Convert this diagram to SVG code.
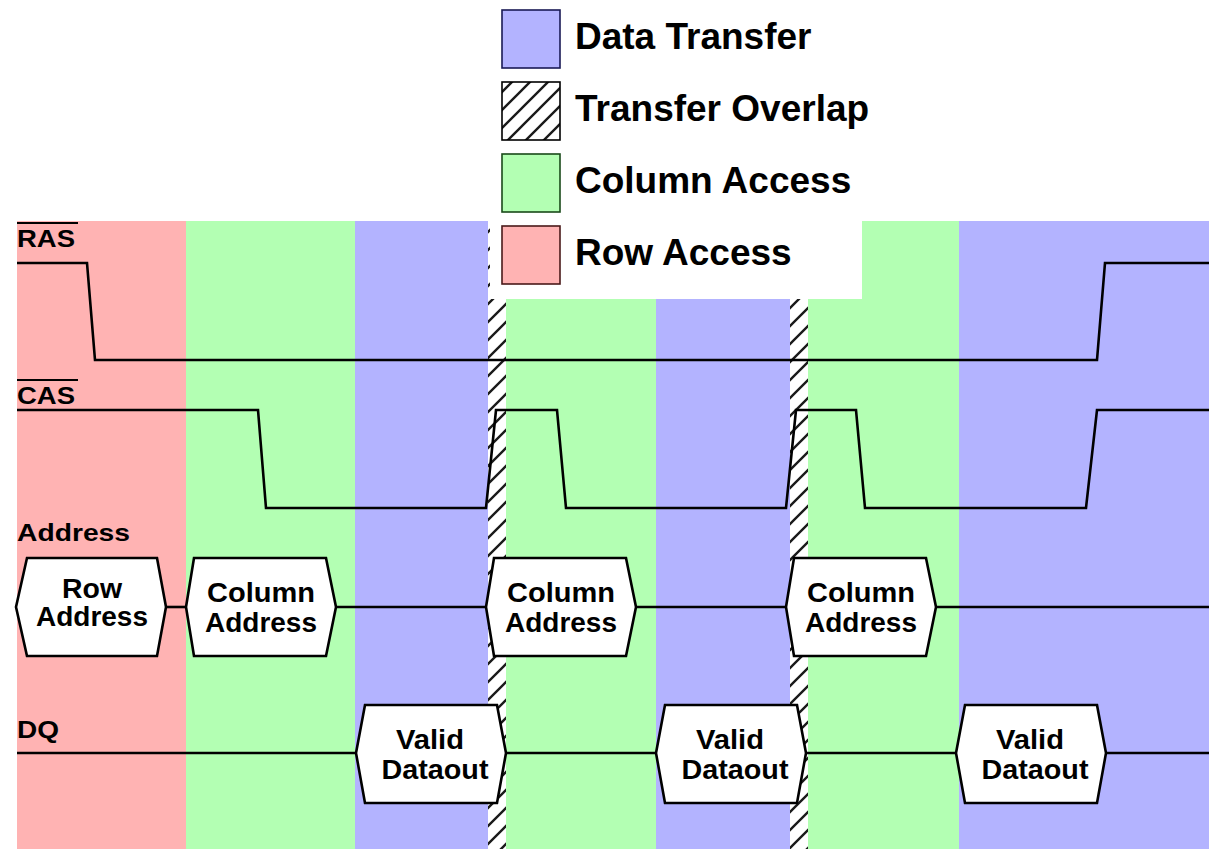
<svg xmlns="http://www.w3.org/2000/svg" width="1209" height="849" viewBox="0 0 1209 849">
  <defs>
    <pattern id="hatch" patternUnits="userSpaceOnUse" width="18" height="18">
      <rect width="18" height="18" fill="#ffffff"/>
      <path d="M-4.5,4.5 L4.5,-4.5 M0,18 L18,0 M13.5,22.5 L22.5,13.5" stroke="#1a1a1a" stroke-width="2.4"/>
    </pattern>
    <style>
      .row { fill: #ffb3b3; }
      .col { fill: #b3ffb3; }
      .xfer { fill: #b3b3ff; }
      .ovl { fill: url(#hatch); }
      .sig { fill: none; stroke: #000; stroke-width: 2.6; stroke-linejoin: miter; }
      .hex { fill: #ffffff; stroke: #000; stroke-width: 2.6; stroke-linejoin: miter; }
      .lbl { font-family: "Liberation Sans", Arial, sans-serif; font-weight: bold; font-size: 24.5px; fill: #000; }
      .box { font-family: "Liberation Sans", Arial, sans-serif; font-weight: bold; font-size: 27px; fill: #000; text-anchor: middle; }
      .leg { font-family: "Liberation Sans", Arial, sans-serif; font-weight: bold; font-size: 37px; fill: #000; }
    </style>
  </defs>

  <rect width="1209" height="849" fill="#ffffff"/>

  <!-- phase bands -->
  <g id="bands">
    <rect class="row" x="17" y="221" width="169" height="628"/>
    <rect class="col" x="186" y="221" width="169" height="628"/>
    <rect class="xfer" x="355" y="221" width="133" height="628"/>
    <rect class="ovl" x="488" y="221" width="18" height="628"/>
    <rect class="col" x="506" y="221" width="150" height="628"/>
    <rect class="xfer" x="656" y="221" width="134" height="628"/>
    <rect class="ovl" x="790" y="221" width="18" height="628"/>
    <rect class="col" x="808" y="221" width="151" height="628"/>
    <rect class="xfer" x="959" y="221" width="250" height="628"/>
  </g>

  <!-- legend -->
  <g id="legend">
    <rect x="490" y="0" width="372" height="299" fill="#ffffff"/>
    <rect class="xfer" x="502" y="10" width="58" height="58" stroke="#1a1a55" stroke-width="1.6"/>
    <rect class="ovl" x="502" y="82" width="58" height="58" stroke="#000" stroke-width="1.6"/>
    <rect class="col" x="502" y="154" width="58" height="58" stroke="#1a4a1a" stroke-width="1.6"/>
    <rect class="row" x="502" y="226" width="58" height="58" stroke="#4a1a1a" stroke-width="1.6"/>
    <text class="leg" x="575" y="49">Data Transfer</text>
    <text class="leg" x="575" y="121">Transfer Overlap</text>
    <text class="leg" x="575" y="193">Column Access</text>
    <text class="leg" x="575" y="265">Row Access</text>
  </g>

  <!-- signal names -->
  <g id="labels">
    <text class="lbl" x="17" y="247" textLength="58" lengthAdjust="spacingAndGlyphs">RAS</text>
    <line x1="17" y1="223" x2="78" y2="223" stroke="#000" stroke-width="2"/>
    <text class="lbl" x="17" y="404" textLength="58" lengthAdjust="spacingAndGlyphs">CAS</text>
    <line x1="17" y1="380" x2="78" y2="380" stroke="#000" stroke-width="2"/>
    <text class="lbl" x="17" y="541" textLength="113" lengthAdjust="spacingAndGlyphs">Address</text>
    <text class="lbl" x="17" y="738" textLength="42" lengthAdjust="spacingAndGlyphs">DQ</text>
  </g>

  <!-- waveforms -->
  <g id="connectors">
    <polyline class="sig" points="17,263 87,263 95,360 1097,360 1105,263 1209,263"/>
    <polyline class="sig" points="17,410 258,410 266,508 486,508 496,410 557,410 566,508 786,508 796,410 856,410 865,508 1086,508 1097,410 1209,410"/>
    <line class="sig" x1="166" y1="607" x2="186" y2="607"/>
    <line class="sig" x1="336" y1="607" x2="486" y2="607"/>
    <line class="sig" x1="636" y1="607" x2="786" y2="607"/>
    <line class="sig" x1="936" y1="607" x2="1209" y2="607"/>
    <line class="sig" x1="17" y1="753" x2="356" y2="753"/>
    <line class="sig" x1="506" y1="753" x2="656" y2="753"/>
    <line class="sig" x1="806" y1="753" x2="956" y2="753"/>
    <line class="sig" x1="1106" y1="753" x2="1209" y2="753"/>
  </g>

  <!-- address phases -->
  <g id="row-address">
    <polygon class="hex" points="16,607 27,558 157,558 166,607 157,656 27,656"/>
    <text class="box" x="92" y="598" textLength="60" lengthAdjust="spacingAndGlyphs">Row</text>
    <text class="box" x="92" y="626" textLength="112" lengthAdjust="spacingAndGlyphs">Address</text>
  </g>
  <g id="column-address-1">
    <polygon class="hex" points="186,607 194,558 326,558 336,607 326,656 194,656"/>
    <text class="box" x="261" y="602" textLength="108" lengthAdjust="spacingAndGlyphs">Column</text>
    <text class="box" x="261" y="632" textLength="112" lengthAdjust="spacingAndGlyphs">Address</text>
  </g>
  <g id="column-address-2">
    <polygon class="hex" points="486,607 494,558 626,558 636,607 626,656 494,656"/>
    <text class="box" x="561" y="602" textLength="108" lengthAdjust="spacingAndGlyphs">Column</text>
    <text class="box" x="561" y="632" textLength="112" lengthAdjust="spacingAndGlyphs">Address</text>
  </g>
  <g id="column-address-3">
    <polygon class="hex" points="786,607 794,558 926,558 936,607 926,656 794,656"/>
    <text class="box" x="861" y="602" textLength="108" lengthAdjust="spacingAndGlyphs">Column</text>
    <text class="box" x="861" y="632" textLength="112" lengthAdjust="spacingAndGlyphs">Address</text>
  </g>

  <!-- data phases -->
  <g id="dataout-1">
    <polygon class="hex" points="356,753 365,705 497,705 506,753 497,803 365,803"/>
    <text class="box" x="430" y="749" textLength="68" lengthAdjust="spacingAndGlyphs">Valid</text>
    <text class="box" x="435" y="779" textLength="107" lengthAdjust="spacingAndGlyphs">Dataout</text>
  </g>
  <g id="dataout-2">
    <polygon class="hex" points="656,753 665,705 797,705 806,753 797,803 665,803"/>
    <text class="box" x="730" y="749" textLength="68" lengthAdjust="spacingAndGlyphs">Valid</text>
    <text class="box" x="735" y="779" textLength="107" lengthAdjust="spacingAndGlyphs">Dataout</text>
  </g>
  <g id="dataout-3">
    <polygon class="hex" points="956,753 965,705 1097,705 1106,753 1097,803 965,803"/>
    <text class="box" x="1030" y="749" textLength="68" lengthAdjust="spacingAndGlyphs">Valid</text>
    <text class="box" x="1035" y="779" textLength="107" lengthAdjust="spacingAndGlyphs">Dataout</text>
  </g>
</svg>
